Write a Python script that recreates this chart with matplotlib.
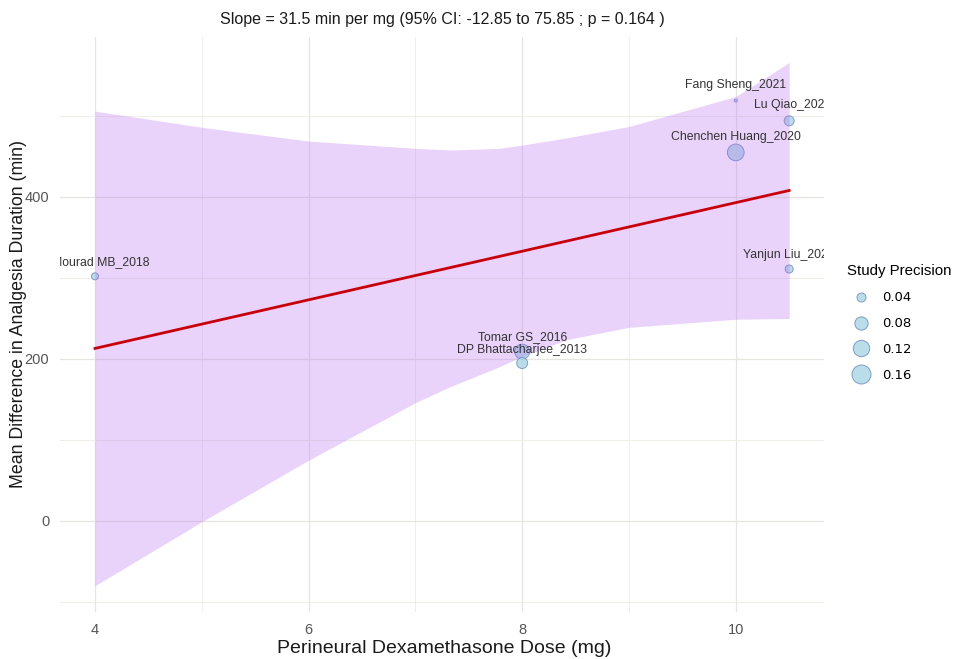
import numpy as np
import matplotlib
matplotlib.use("Agg")
import matplotlib.pyplot as plt
from matplotlib.lines import Line2D
from matplotlib import font_manager

# ---------------- data ----------------
studies = ["Mourad MB_2018", "Tomar GS_2016", "DP Bhattacharjee_2013", "Fang Sheng_2021",
           "Lu Qiao_2021", "Chenchen Huang_2020", "Yanjun Liu_2021"]
dose = [4, 8, 8, 10, 10.5, 10, 10.5]
mean_diff = [302, 209, 195, 519, 494, 455, 311]
precision = [0.026, 0.10, 0.057, 0.009, 0.048, 0.125, 0.033]

# label anchor positions (data units, as placed by repel in the reference)
label_x = [4.05, 8.0, 8.0, 10.0, 10.53, 10.0, 10.5]
label_y = [320, 227, 211, 538, 514, 474, 328]

# regression line endpoints
line_x = [4, 10.5]
line_y = [213, 408]

# confidence band
band_x = [4, 5, 6, 7, 7.33, 7.78, 8, 8.42, 9, 10, 10.5]
band_upper = [506, 486, 469, 460, 458, 460, 464, 473, 487, 524, 566]
band_lower = [-80, -1, 75, 146, 166, 190, 203, 224, 239, 249, 250]

legend_values = [0.04, 0.08, 0.12, 0.16]

title = "Slope = 31.5 min per mg (95% CI: -12.85 to 75.85 ; p = 0.164 )"
xlabel = "Perineural Dexamethasone Dose (mg)"
ylabel = "Mean Difference in Analgesia Duration (min)"
legend_title = "Study Precision"
xticks = [4, 6, 8, 10]
yticks = [0, 200, 400]

# ---------------- styling ----------------
names = {f.name for f in font_manager.fontManager.ttflist}
narrow = "Liberation Sans Narrow" if "Liberation Sans Narrow" in names else "Liberation Sans"
regular = "Liberation Sans"

DPI = 100
def size_pt2(p):
    d_px = np.sqrt(np.maximum(2333 * np.asarray(p) - 12, 9))
    d_pt = d_px * 72 / DPI
    return d_pt ** 2

fig = plt.figure(figsize=(9.58, 6.59), dpi=DPI)
ax = fig.add_axes([0.0629, 0.0718, 0.860 - 0.0629, 0.9445 - 0.0718])
ax.set_xlim(3.675, 10.825)
ax.set_ylim(-112, 598)

for s in ax.spines.values():
    s.set_visible(False)
ax.set_xticks(xticks)
ax.set_yticks(yticks)
ax.set_xticks([5, 7, 9], minor=True)
ax.set_yticks([-100, 100, 300, 500], minor=True)
ax.tick_params(which="both", length=0)
ax.tick_params(axis="both", labelsize=10.5, labelcolor="#555555", pad=8)
for lab in ax.get_xticklabels() + ax.get_yticklabels():
    lab.set_fontfamily(narrow)
ax.grid(True, which="major", color="#e6e6e0", linewidth=0.9)
ax.grid(True, which="minor", color="#efefe8", linewidth=0.7)
ax.set_axisbelow(True)

# points
ax.scatter(dose, mean_diff, s=size_pt2(precision), facecolor="#ADD8E6", alpha=0.85,
           edgecolor="#6f8fc0", linewidth=0.7, zorder=2)
# band on top of points
ax.fill_between(band_x, band_lower, band_upper, color="#B464F0", alpha=0.28,
                linewidth=0, zorder=3)
# regression line
ax.plot(line_x, line_y, color="#C8000A", linewidth=2.0, zorder=4)

# labels
for name, lx, ly in zip(studies, label_x, label_y):
    ax.text(lx, ly, name, ha="center", va="center", fontsize=8.8,
            color="#333333", family=regular, clip_on=True, zorder=5)

fig.text(0.462, 0.970, title, ha="center", va="center", fontsize=11.5,
         family=narrow, color="#1a1a1a")
fig.text(0.464, 0.016, xlabel, ha="center", va="center", fontsize=14,
         family=narrow, color="#1a1a1a")
fig.text(0.019, 0.5235, ylabel, ha="center", va="center", rotation=90,
         fontsize=12.8, family=regular, color="#1a1a1a")

# legend
handles = [Line2D([], [], linestyle="none", marker="o",
                  markersize=float(np.sqrt(size_pt2(v))),
                  markerfacecolor="#ADD8E6", markeredgecolor="#6f8fc0",
                  markeredgewidth=0.7, alpha=0.85) for v in legend_values]
leg = fig.legend(handles, [f"{v:.2f}" for v in legend_values], title=legend_title,
                 loc="upper left", bbox_to_anchor=(0.879, 0.607), frameon=False,
                 fontsize=9.5, title_fontsize=10.8, labelspacing=0.98,
                 handletextpad=0.6, borderaxespad=0)
leg._legend_box.align = "left"
leg.get_title().set_family(regular)

fig.savefig("out.png", dpi=DPI)
